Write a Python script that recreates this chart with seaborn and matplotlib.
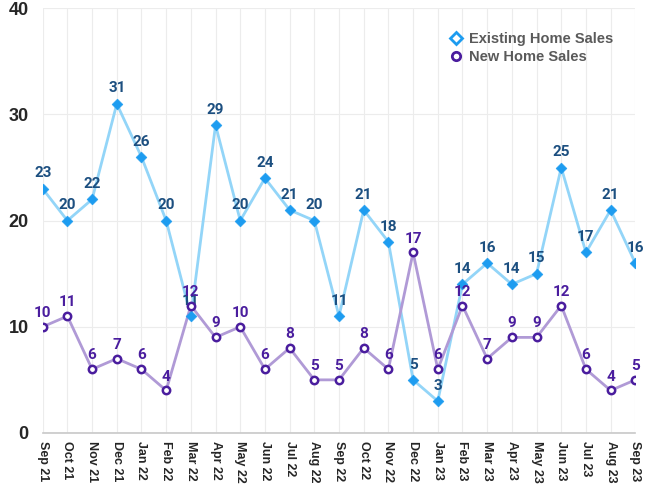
import numpy as np
import pandas as pd
import seaborn as sns
import matplotlib.pyplot as plt

months = ["Sep 21", "Oct 21", "Nov 21", "Dec 21", "Jan 22", "Feb 22", "Mar 22", "Apr 22",
          "May 22", "Jun 22", "Jul 22", "Aug 22", "Sep 22", "Oct 22", "Nov 22", "Dec 22",
          "Jan 23", "Feb 23", "Mar 23", "Apr 23", "May 23", "Jun 23", "Jul 23", "Aug 23", "Sep 23"]
existing = [23, 20, 22, 31, 26, 20, 11, 29, 20, 24, 21, 20, 11, 21, 18, 5, 3, 14, 16, 14, 15, 25, 17, 21, 16]
new_sales = [10, 11, 6, 7, 6, 4, 12, 9, 10, 6, 8, 5, 5, 8, 6, 17, 6, 12, 7, 9, 9, 12, 6, 4, 5]

sns.set_style("white")
plt.rcParams["font.family"] = ["Liberation Sans", "DejaVu Sans"]

df = pd.DataFrame({"pos": np.arange(len(months)), "month": months,
                   "Existing Home Sales": existing, "New Home Sales": new_sales})

fig, ax = plt.subplots(figsize=(6.57, 4.87), dpi=100)
fig.subplots_adjust(left=0.065, right=0.967, top=0.983, bottom=0.111)

ex_line, ex_mark, ex_lab = "#93d5f8", "#1d9cf0", "#1c4f80"
nw_line, nw_mark, nw_lab = "#b09ad6", "#4a1d9e", "#4a1d9e"

sns.lineplot(data=df, x="pos", y="Existing Home Sales", color=ex_line, lw=2, ax=ax, zorder=2)
sns.scatterplot(data=df, x="pos", y="Existing Home Sales", marker="D", s=30, color=ex_mark,
                edgecolor=ex_mark, ax=ax, zorder=3)
sns.lineplot(data=df, x="pos", y="New Home Sales", color=nw_line, lw=2, ax=ax, zorder=2)
sns.scatterplot(data=df, x="pos", y="New Home Sales", marker="o", s=28, facecolor="white",
                edgecolor=nw_mark, linewidth=1.8, ax=ax, zorder=4)

for i, (e, n) in enumerate(zip(existing, new_sales)):
    ax.annotate(str(e), (i, e), xytext=(0, 6), textcoords="offset points", ha="center",
                va="bottom", fontsize=11, fontweight="bold", color=ex_lab, family="Roboto")
    ax.annotate(str(n), (i, n), xytext=(0, 5), textcoords="offset points", ha="center",
                va="bottom", fontsize=11, fontweight="bold", color=nw_lab, family="Roboto")

ax.set_xlim(0, len(months) - 1)
ax.set_ylim(0, 40)
ax.set_yticks([0, 10, 20, 30, 40])
ax.set_xticks(df["pos"])
ax.set_xticklabels(months, rotation=-90, fontsize=9, fontweight="bold")
ax.tick_params(axis="y", labelsize=13, length=0, pad=10)
ax.tick_params(axis="x", length=3, color="#c8c8c8", pad=3)
for lab in ax.get_yticklabels():
    lab.set_fontweight("bold")
ax.set_xlabel("")
ax.set_ylabel("")
ax.grid(True, color="#ececec", lw=0.8)
for s in ["top", "right", "left"]:
    ax.spines[s].set_visible(False)
ax.spines["bottom"].set_color("#c8c8c8")
ax.spines["bottom"].set_linewidth(1.2)

h1 = plt.Line2D([], [], ls="", marker="D", ms=6, mfc="white", mec=ex_mark, mew=2)
h2 = plt.Line2D([], [], ls="", marker="o", ms=6, mfc="white", mec=nw_mark, mew=2)
leg = ax.legend([h1, h2], ["Existing Home Sales", "New Home Sales"], loc="upper right",
                bbox_to_anchor=(0.985, 0.975), frameon=False, handletextpad=0.4,
                labelspacing=0.3, handlelength=1.0, prop={"weight": "bold", "size": 10.5})
for t in leg.get_texts():
    t.set_color("#5a5a5a")

plt.savefig("out.png", dpi=100)
